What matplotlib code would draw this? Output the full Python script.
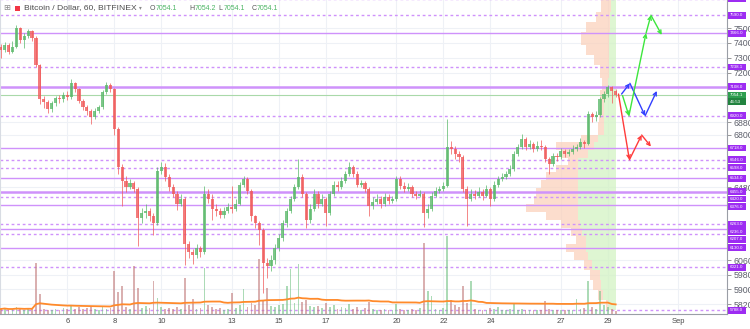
import numpy as np
import pandas as pd
import matplotlib
matplotlib.use('Agg')
import matplotlib.pyplot as plt
import matplotlib.dates as mdates
from matplotlib.patches import Rectangle
from matplotlib.ticker import FixedLocator, NullLocator, FixedFormatter

# ── Data: BTC/USD Bitfinex, Aug 2018 (4h steps) ───────────────────────────────
first_open = 7370.0
closes = [7354, 7387, 7340, 7374, 7500, 7421, 7448, 7480, 7434, 7254,
          7026, 7006, 6962, 7000, 7033, 7026, 7052, 7039, 7129, 7090,
          7013, 6975, 6950, 6912, 6950, 6975, 7071, 7116, 7090, 6836,
          6604, 6520, 6484, 6508, 6472, 6297, 6326, 6343, 6309, 6269,
          6580, 6604, 6544, 6484, 6443, 6384, 6413, 6149, 6104, 6088,
          6127, 6104, 6443, 6413, 6355, 6343, 6320, 6343, 6366, 6355,
          6384, 6496, 6532, 6460, 6309, 6269, 6228, 6043, 6027, 6060,
          6127, 6183, 6269, 6343, 6413, 6484, 6544, 6443, 6286, 6355,
          6443, 6384, 6413, 6326, 6443, 6496, 6484, 6520, 6562, 6604,
          6562, 6496, 6508, 6472, 6372, 6395, 6413, 6384, 6425, 6401,
          6413, 6532, 6490, 6472, 6484, 6443, 6430, 6443, 6326, 6355,
          6430, 6460, 6472, 6490, 6725, 6713, 6682, 6664, 6472, 6413,
          6443, 6430, 6455, 6430, 6472, 6413, 6496, 6532, 6544, 6562,
          6592, 6682, 6725, 6774, 6725, 6743, 6713, 6731, 6725, 6652,
          6622, 6670, 6664, 6700, 6682, 6694, 6713, 6725, 6756, 6743,
          6930, 6912, 6924, 7026, 7058, 7103, 7077, 7054.1]
highs = [7395, 7405, 7400, 7410, 7525, 7510, 7470, 7495, 7490, 7445,
         7260, 7045, 7020, 7015, 7050, 7055, 7070, 7080, 7155, 7140,
         7100, 7025, 6990, 6965, 6970, 6990, 7085, 7140, 7130, 7100,
         6850, 6620, 6545, 6530, 6520, 6480, 6360, 6380, 6360, 6330,
         6600, 6630, 6625, 6560, 6500, 6460, 6440, 6425, 6170, 6125,
         6150, 6140, 6490, 6470, 6440, 6380, 6360, 6365, 6390, 6490,
         6410, 6510, 6545, 6540, 6470, 6320, 6280, 6240, 6070, 6090,
         6150, 6210, 6290, 6360, 6430, 6500, 6652, 6560, 6455, 6380,
         6472, 6460, 6440, 6425, 6460, 6520, 6515, 6540, 6580, 6630,
         6615, 6575, 6525, 6520, 6480, 6420, 6440, 6430, 6445, 6440,
         6430, 6550, 6545, 6510, 6505, 6495, 6460, 6465, 6450, 6380,
         6450, 6480, 6490, 6510, 6900, 6760, 6730, 6700, 6675, 6490,
         6470, 6465, 6480, 6470, 6495, 6480, 6515, 6550, 6565, 6580,
         6615, 6700, 6745, 6805, 6785, 6770, 6755, 6760, 6765, 6735,
         6660, 6690, 6690, 6720, 6715, 6715, 6735, 6745, 6780, 6770,
         6950, 6945, 6950, 7040, 7080, 7122, 7115, 7090]
lows = [7300, 7340, 7325, 7330, 7365, 7400, 7367, 7430, 7415, 7240,
        6995, 6970, 6935, 6945, 6985, 7000, 7010, 7020, 7030, 7070,
        7000, 6955, 6925, 6870, 6900, 6935, 6965, 7060, 7070, 6800,
        6560, 6370, 6455, 6470, 6450, 6138, 6270, 6300, 6285, 6200,
        6260, 6560, 6520, 6460, 6420, 6345, 6370, 6032, 6070, 6040,
        6075, 6080, 6095, 6390, 6290, 6310, 6297, 6300, 6330, 6330,
        6340, 6375, 6480, 6440, 6280, 6240, 6143, 5880, 5960, 6000,
        6040, 6110, 6170, 6250, 6330, 6400, 6470, 6420, 6240, 6270,
        6340, 6360, 6370, 6256, 6315, 6430, 6460, 6470, 6505, 6550,
        6540, 6480, 6480, 6455, 6310, 6350, 6380, 6360, 6370, 6380,
        6385, 6400, 6470, 6450, 6460, 6425, 6410, 6420, 6250, 6300,
        6340, 6420, 6445, 6460, 6480, 6680, 6650, 6630, 6450, 6256,
        6400, 6410, 6420, 6405, 6420, 6370, 6400, 6480, 6515, 6530,
        6545, 6580, 6670, 6710, 6705, 6710, 6695, 6700, 6705, 6630,
        6560, 6610, 6640, 6650, 6660, 6670, 6680, 6700, 6710, 6720,
        6735, 6880, 6890, 6910, 7010, 7040, 7000, 7040]
volumes = [5, 6, 4, 5, 7, 5, 4, 6, 5, 51,
           20, 5, 4, 4, 5, 4, 6, 5, 9, 5,
           7, 5, 6, 8, 5, 4, 7, 5, 6, 43,
           22, 28, 7, 5, 48, 26, 6, 8, 6, 33,
           16, 7, 5, 6, 5, 7, 5, 36, 9, 15,
           5, 6, 46, 9, 7, 5, 6, 4, 5, 21,
           6, 9, 25, 7, 11, 9, 55, 14, 26, 8,
           7, 9, 10, 28, 45, 11, 50, 12, 14, 8,
           7, 8, 6, 11, 7, 9, 5, 7, 6, 10,
           5, 7, 4, 6, 12, 5, 4, 4, 5, 4,
           4, 10, 5, 4, 4, 5, 4, 6, 71, 23,
           18, 5, 4, 6, 78, 14, 9, 7, 28, 11,
           33, 5, 4, 4, 4, 6, 5, 7, 4, 4,
           5, 11, 4, 5, 4, 4, 4, 4, 4, 13,
           5, 4, 4, 4, 4, 4, 4, 15, 5, 6,
           33, 7, 5, 23, 9, 7, 5, 3]
times = pd.date_range('2018-08-03 04:00', periods=len(closes), freq='4h')

# visible range volume profile (bin edges, up / down volume)
profile_edges = [7697, 7613, 7543, 7474, 7386, 7318, 7251, 7165, 7086, 7021,
                 6944, 6881, 6799, 6756, 6706, 6657, 6614, 6572, 6524, 6476,
                 6429, 6381, 6335, 6288, 6242, 6197, 6151, 6106, 6061, 6006,
                 5951, 5896, 5842, 5789]
profile_up = [5, 6, 6, 7, 7, 7, 7, 8, 10, 12, 12, 12, 18, 22, 28, 38, 38,
              38, 38, 38, 38, 38, 38, 36, 34, 30, 30, 28, 24, 16, 15, 13, 8]
profile_down = [10, 14, 24, 28, 23, 15, 9, 6, 6, 3, 5, 6, 17, 38, 27, 10, 22,
                32, 37, 42, 44, 52, 32, 19, 11, 10, 20, 14, 8, 10, 8, 5, 2]

levels_solid = [7466.0, 7108.0, 6718.0, 6534.0, 6455.0, 6376.0, 6236.0, 6130.0]
levels_dotted = [7704.0, 7590.0, 7238.1, 6920.0, 6646.0, 6598.0, 6420.0,
                 6263.0, 6207.0, 6021.0, 5788.0]
levels_thick = [7108.0, 6455.0]
last_price = 7054.1
countdown = '46:53'

price_ticks = [5820, 5900, 5980, 6060, 6480, 6800, 6880, 7200, 7300, 7400, 7500]
date_ticks = ['2018-08-06', '2018-08-08', '2018-08-10', '2018-08-13', '2018-08-15',
              '2018-08-17', '2018-08-20', '2018-08-22', '2018-08-24', '2018-08-27',
              '2018-08-29', '2018-09-01']
date_labels = ['6', '8', '10', '13', '15', '17', '20', '22', '24', '27', '29', 'Sep']

# projection sketches (time, price)
path_red = [('2018-08-29 10:50', 7060), ('2018-08-29 22:00', 6646),
            ('2018-08-30 10:30', 6799), ('2018-08-30 20:00', 6727)]
path_blue = [('2018-08-29 14:00', 7060), ('2018-08-29 22:30', 7130),
             ('2018-08-30 14:00', 6920), ('2018-08-31 02:00', 7080)]
path_green = [('2018-08-29 15:00', 7050), ('2018-08-29 21:30', 6920),
              ('2018-08-30 15:00', 7466), ('2018-08-30 20:00', 7590),
              ('2018-08-31 07:00', 7454)]

# ── Style ─────────────────────────────────────────────────────────────────────
UP, DOWN = '#5cb96c', '#f05b5b'
VOL_UP, VOL_DOWN = '#76c386', '#c27c7c'
LEVEL = '#cf92fb'
LABEL_BG = '#9d2cf2'
W, H = 750, 329
PLOT_RIGHT, PLOT_BOTTOM = 727, 314

fig = plt.figure(figsize=(W / 100, H / 100), dpi=100)
ax = fig.add_axes([0, (H - PLOT_BOTTOM) / H, PLOT_RIGHT / W, PLOT_BOTTOM / H])
ax.set_yscale('log')
ax.set_ylim(5768, 7697)
ax.set_xlim(mdates.date2num(pd.Timestamp('2018-08-03 03:16')),
            mdates.date2num(pd.Timestamp('2018-09-03 01:40')))

x = mdates.date2num(times)
opens = [first_open] + closes[:-1]
step = x[1] - x[0]

# grid
ax.xaxis.set_major_locator(FixedLocator(mdates.date2num(pd.to_datetime(date_ticks))))
ax.xaxis.set_major_formatter(FixedFormatter(date_labels))
ax.yaxis.set_major_locator(FixedLocator(price_ticks))
ax.yaxis.set_minor_locator(NullLocator())
ax.yaxis.set_major_formatter(FixedFormatter([str(p) for p in price_ticks]))
ax.grid(True, color='#eef1f6', lw=0.8, zorder=0)
ax.set_axisbelow(True)

# volume profile, anchored at the last bar
fig.canvas.draw()
px_per_day = ax.transData.transform((1, 6500))[0] - ax.transData.transform((0, 6500))[0]
anchor = x[-1]
edges = np.array(profile_edges)
bottoms = edges[1:]
heights = edges[:-1] - edges[1:]
up_w = np.array(profile_up) / px_per_day
down_w = np.array(profile_down) / px_per_day
ax.barh(bottoms, up_w, height=heights, left=anchor - up_w, align='edge',
        color='#d3f3c4', alpha=0.75, lw=0, zorder=1)
ax.barh(bottoms, down_w, height=heights, left=anchor - up_w - down_w, align='edge',
        color='#fbd2bd', alpha=0.75, lw=0, zorder=1)

# levels
xmin, xmax = ax.get_xlim()
for lv in levels_solid:
    ax.axhline(lv, color=LEVEL, lw=1.8 if lv in levels_thick else 1.0, zorder=2)
for lv in levels_dotted:
    ax.axhline(lv, color=LEVEL, lw=1.0, dashes=(2, 2), zorder=2)
ax.axhline(last_price, color='#a9d9a9', lw=0.8, zorder=2)

# candles
for xi, o, h, l, c in zip(x, opens, highs, lows, closes):
    col = UP if c >= o else DOWN
    ax.vlines(xi, l, h, color=col, lw=0.6, alpha=0.85, zorder=3)
    ax.bar(xi, abs(c - o) or 1, bottom=min(o, c), width=step * 0.8,
           color=col, alpha=0.8, lw=0, zorder=3)

# projections
for path, col in [(path_red, '#ff3b3b'), (path_blue, '#3340ff'), (path_green, '#3de63d')]:
    pts = [(mdates.date2num(pd.Timestamp(t)), p) for t, p in path]
    for a, b in zip(pts[:-1], pts[1:]):
        ax.annotate('', xy=b, xytext=a,
                    arrowprops=dict(arrowstyle='->', color=col, lw=1.0,
                                    mutation_scale=6, shrinkA=0, shrinkB=0),
                    zorder=5)

# volume pane
axv = ax.twinx()
axv.set_ylim(0, PLOT_BOTTOM)
axv.set_yticks([])
for s in axv.spines.values():
    s.set_visible(False)
vcol = [VOL_UP if c >= o else VOL_DOWN for o, c in zip(opens, closes)]
axv.bar(x, volumes, width=step * 0.45, color=vcol, alpha=0.6, lw=0, zorder=2)
vol_ma = pd.Series(volumes).rolling(48, min_periods=1).mean()
axv.plot(x, vol_ma, color='#ff8a2b', lw=1.3, zorder=3)
axv.set_xlim(xmin, xmax)

# axes cosmetics
ax.yaxis.tick_right()
ax.tick_params(axis='y', length=3, width=0.6, color='#888', pad=2,
               labelsize=6.3, labelcolor='#5d606b')
ax.tick_params(axis='x', length=0, pad=3, labelsize=5.5, labelcolor='#4a4a4a')
for lab in ax.get_xticklabels() + ax.get_yticklabels():
    lab.set_fontfamily('Liberation Sans')
ax.spines['top'].set_visible(False)
ax.spines['left'].set_color('#d8dce3')
ax.spines['right'].set_color('#9a9ea6')
ax.spines['bottom'].set_color('#9a9ea6')
for s in ['left', 'right', 'bottom']:
    ax.spines[s].set_linewidth(0.8)

# price labels on the scale (pushed apart where they would overlap)
fig.canvas.draw()
items = [(lv, f'{lv:.1f}', LABEL_BG) for lv in levels_solid + levels_dotted]
items.append((last_price, f'{last_price:.1f}', '#2e9e4f'))
items.sort(key=lambda t: -t[0])
box_h, gap = 6.8, 7.5
prev = -99
placed = []
for price, txt, col in items:
    ypx = H - ax.transData.transform((xmin, price))[1]
    ypx = max(ypx, prev + gap)
    placed.append((ypx, txt, col))
    prev = ypx
    if txt == f'{last_price:.1f}':
        placed.append((ypx + box_h, countdown, '#22833f'))
        prev = ypx + box_h
for ypx, txt, col in placed:
    fig.add_artist(Rectangle((728 / W, 1 - (ypx + box_h / 2) / H), 18 / W, box_h / H,
                             transform=fig.transFigure, color=col, lw=0, zorder=4))
    fig.text(730 / W, 1 - ypx / H, txt, fontsize=3.2, color='white', va='center',
             ha='left', family='Liberation Sans', zorder=5)

# header
hy = 1 - 8 / H
fig.text(3 / W, hy, '⊞', fontsize=6, color='#8a8a8a', va='center')
fig.add_artist(Rectangle((15 / W, 1 - 10.5 / H), 5 / W, 5 / H,
                         transform=fig.transFigure, color='#f23645', lw=0))
fig.text(24 / W, hy, 'Bitcoin / Dollar, 60, BITFINEX', fontsize=6.1, color='#4b4b4b',
         va='center', family='Liberation Sans')
fig.text(139 / W, hy, '▾', fontsize=4, color='#8a8a8a', va='center')
for lx, letter, val in [(150, 'O', '7054.1'), (189, 'H', '7054.2'),
                        (218, 'L', '7054.1'), (251.5, 'C', '7054.1')]:
    fig.text(lx / W, hy, letter, fontsize=5.0, color='#555', va='center',
             family='Liberation Sans')
    fig.text((lx + 5.2) / W, hy, val, fontsize=5.0, color='#4cb564', va='center',
             family='Liberation Sans')

fig.savefig('out.png', dpi=100)
